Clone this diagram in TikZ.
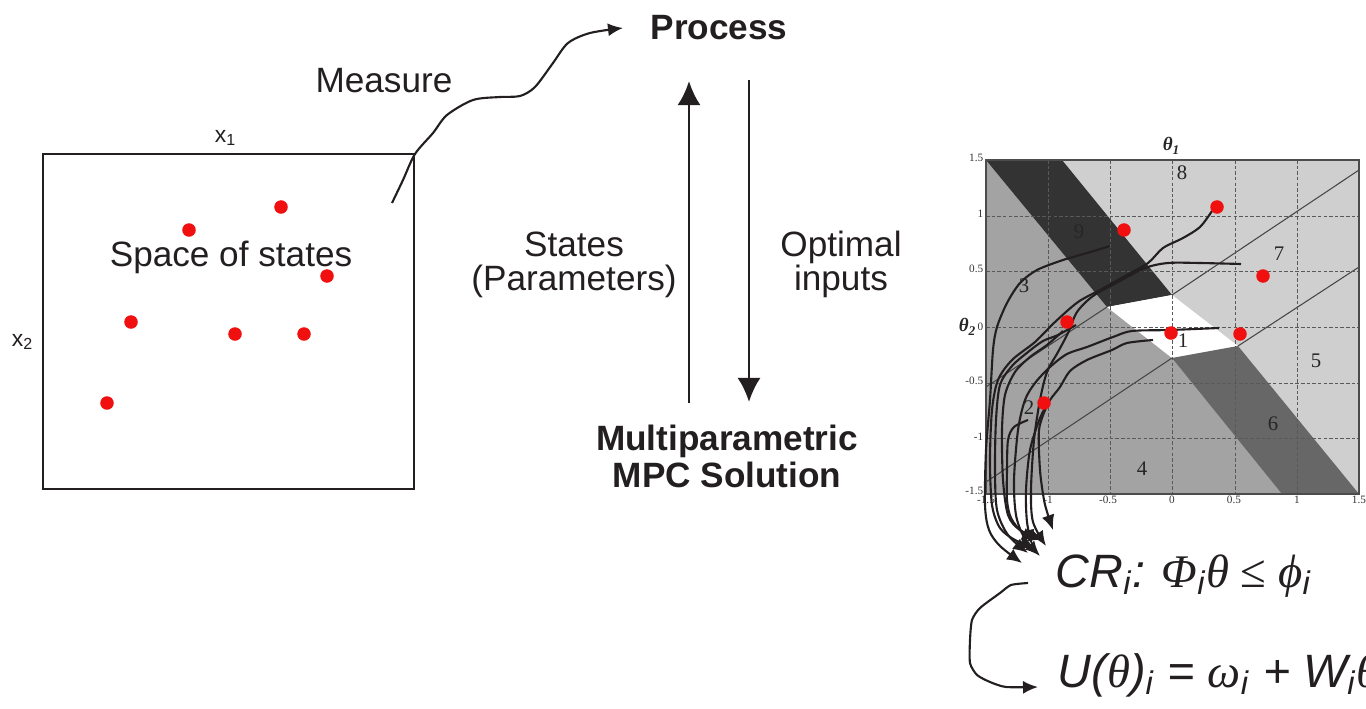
\documentclass[tikz,border=0pt]{standalone}
\usepackage{fontspec}
\setmainfont{Liberation Sans}
\newfontfamily\timesfont{Liberation Serif}
\usetikzlibrary{arrows.meta}

\definecolor{inkdark}{HTML}{231F20}
\definecolor{crlight}{HTML}{CFCFCF}
\definecolor{crmid}{HTML}{A3A3A3}
\definecolor{crdark}{HTML}{333333}
\definecolor{crshade}{HTML}{676767}
\definecolor{dotred}{HTML}{F01010}

\begin{document}
\begin{tikzpicture}[x=0.01cm, y=-0.01cm,
  txt/.style={font=\fontsize{10}{9.4}\selectfont, text=inkdark, inner sep=0pt, align=center},
  bold/.style={txt, font=\fontsize{10}{9.2}\selectfont\bfseries},
  axislab/.style={font=\fontsize{6.5}{7}\selectfont, text=inkdark, inner sep=0pt},
  tick/.style={font=\timesfont\fontsize{3.2}{3.5}\selectfont, text=black!80, inner sep=0pt},
  crnum/.style={font=\timesfont\fontsize{5.9}{6}\selectfont, text=black!85, inner sep=0pt},
  thetalab/.style={font=\timesfont\bfseries\itshape\fontsize{5.4}{6}\selectfont, text=black!85, inner sep=0pt},
  formula/.style={font=\fontsize{13.3}{15}\selectfont\itshape, text=inkdark, inner sep=0pt, anchor=base west},
  sample/.style={circle, fill=dotred, draw=none, minimum size=1.35mm, inner sep=0pt},
  grid line/.style={gray!70!black, line width=0.25pt, dash pattern=on 1pt off 0.6pt},
  cut/.style={gray!55!black, line width=0.3pt},
  trail/.style={inkdark, line width=0.6pt, -{Latex[length=1.5mm, width=1.3mm]}},
  flow/.style={inkdark, line width=0.75pt, -{Latex[length=2.4mm, width=2.3mm]}}
]
  \useasboundingbox (0,0) rectangle (1366,709);
  \clip (0,0) rectangle (1366,709);

  % space of states
  \draw[inkdark, line width=0.6pt] (43,154) rectangle (414,489);
  \node[axislab] (xone) at (226,138) {x\textsubscript{1}};
  \node[axislab] (xtwo) at (23,342) {x\textsubscript{2}};
  \node[txt, anchor=base] (space) at (231,266) {Space of states};
  \node[sample] (s1) at (281,207) {};
  \node[sample] (s2) at (189,230) {};
  \node[sample] (s3) at (327,276) {};
  \node[sample] (s4) at (131,322) {};
  \node[sample] (s5) at (235,334) {};
  \node[sample] (s6) at (304,334) {};
  \node[sample] (s7) at (107,403) {};

  % loop between process and solver
  \node[txt, anchor=base] (measure) at (384,93) {Measure};
  \node[bold, anchor=base] (process) at (719,40) {Process};
  \node[txt, anchor=base] (states) at (574,290) {States\\(Parameters)};
  \node[txt, anchor=base] (optimal) at (841,290) {Optimal\\inputs};
  \node[bold, anchor=base] (solver) at (727,487) {Multiparametric\\MPC Solution};
  \coordinate (meastail) at (392,203);
  \coordinate (meastip) at (623,28);
  \draw[trail] plot[smooth, tension=0.5] coordinates {(meastail) (403,180) (415,154) (433,133) (447,115) (473,100) (500,97) (520,96) (535,87) (553,63) (568,43) (590,33) (meastip)};
  \coordinate (upfoot) at (689,403);
  \coordinate (uptip) at (689,81);
  \coordinate (downtop) at (749,80);
  \coordinate (downtip) at (749,402);
  \draw[flow] (upfoot) -- (uptip);
  \draw[flow] (downtop) -- (downtip);

  % critical regions
  \fill[crlight] (986,160) rectangle (1359,494);
  \fill[crmid] (986,160) -- (1107,307) -- (1172,358) -- (1282,494) -- (986,494) -- cycle;
  \fill[crdark] (986,160) -- (1062,160) -- (1172,295) -- (1107,307) -- cycle;
  \fill[white] (1107,307) -- (1172,295) -- (1238,346) -- (1172,358) -- cycle;
  \fill[crshade] (1172,358) -- (1238,346) -- (1359,494) -- (1282,494) -- cycle;
  \draw[cut] (1172,295) -- (1359,170);
  \draw[cut] (1238,346) -- (1359,267);
  \draw[cut] (1107,307) -- (986,387);
  \draw[cut] (1172,358) -- (986,482);
  \foreach \g in {1048,1110,1172,1235,1297}
    \draw[grid line] (\g,160) -- (\g,494);
  \foreach \g in {216,271,327,383,438}
    \draw[grid line] (986,\g) -- (1359,\g);
  \draw[gray!60!black, line width=0.3pt] (986,160) rectangle (1359,494);
  \foreach \v/\py [count=\k] in {1.5/158, 1/214, 0.5/269, 0/327, -0.5/381, -1/437, -1.5/491}
    \node[tick, anchor=east] (yt\k) at (984,\py) {\v};
  \foreach \v/\px [count=\k] in {-1.5/986, -1/1048, -0.5/1108, 0/1172, 0.5/1234, 1/1297, 1.5/1359}
    \node[tick] (xt\k) at (\px,500) {\v};
  \node[thetalab] (thone) at (1172,146) {θ\textsubscript{1}};
  \node[thetalab] (thtwo) at (968,327) {θ\textsubscript{2}};
  \node[crnum] (cr8) at (1182,173) {8};
  \node[crnum] (cr9) at (1079,232) {9};
  \node[crnum] (cr7) at (1279,254) {7};
  \node[crnum] (cr3) at (1024,286) {3};
  \node[crnum] (cr1) at (1183,341) {1};
  \node[crnum] (cr5) at (1316,361) {5};
  \node[crnum] (cr2) at (1029,408) {2};
  \node[crnum] (cr6) at (1273,424) {6};
  \node[crnum] (cr4) at (1142,469) {4};

  % trajectories to the formula
  \draw[trail] plot[smooth] coordinates {(1212,211) (1200,227) (1183,238) (1163,248) (1148,263) (1125,276) (1100,290) (1078,302) (1055,322) (1035,342) (1012,360) (998,380) (992,410) (990,460) (992,505) (1000,528) (1015,540) (1035,548)};
  \draw[trail] plot[smooth] coordinates {(1241,264) (1200,263) (1168,263) (1145,268) (1118,282) (1093,296) (1077,312) (1068,333) (1058,352) (1047,372) (1040,400) (1034,440) (1031,490) (1033,522) (1046,546)};
  \draw[trail] plot[smooth] coordinates {(1110,246) (1087,253) (1063,260) (1037,270) (1020,283) (1007,303) (997,327) (993,350) (990,400) (986,450) (985,505) (989,530) (1000,546) (1022,563)};
  \draw[trail] plot[smooth] coordinates {(1219,328) (1170,330) (1132,331) (1113,337) (1087,347) (1067,354) (1050,367) (1035,383) (1025,400) (1018,430) (1014,480) (1016,515) (1024,537) (1040,556)};
  \draw[trail] plot[smooth] coordinates {(1153,340) (1127,343) (1112,350) (1087,360) (1070,371) (1060,387) (1050,400) (1040,418) (1030,450) (1026,490) (1027,522) (1032,545)};
  \draw[trail] plot[smooth] coordinates {(1046,408) (1039,430) (1040,470) (1044,500) (1048,515) (1053,530)};
  \draw[trail] plot[smooth] coordinates {(1028,420) (1014,427) (1008,440) (1007,470) (1007,500) (1011,518) (1022,532) (1037,540)};
  \draw[trail] plot[smooth] coordinates {(1076,325) (1058,335) (1043,341) (1028,352) (1012,366) (1000,385) (996,420) (995,470) (997,510) (1008,535) (1028,553)};
  \draw[trail] plot[smooth] coordinates {(1063,331) (1047,345) (1030,357) (1015,372) (1005,395) (1002,430) (1003,480) (1008,515) (1020,530) (1044,540)};
  \node[sample] (p1) at (1124,230) {};
  \node[sample] (p2) at (1217,207) {};
  \node[sample] (p3) at (1263,276) {};
  \node[sample] (p4) at (1067,322) {};
  \node[sample] (p5) at (1171,333) {};
  \node[sample] (p6) at (1240,334) {};
  \node[sample] (p7) at (1044,403) {};

  % explicit solution
  \node[formula] (crset) at (1055,587) {CR\textsubscript{i}:\hspace{0.35em}{\timesfont Φ}\textsubscript{i}{\timesfont θ}\hspace{0.25em}{\timesfont\upshape ≤}\hspace{0.25em}{\timesfont ϕ}\textsubscript{i}};
  \node[formula] (law) at (1057,687) {U({\timesfont θ})\textsubscript{i} = {\timesfont ω}\textsubscript{i} + W\textsubscript{i}{\timesfont θ}};
  \coordinate (crtail) at (1028,583);
  \coordinate (lawtip) at (1038,687);
  \draw[trail] plot[smooth, tension=0.4] coordinates {(crtail) (1011,585) (1000,593) (980,608) (972,620) (970,640) (970,663) (977,675) (990,682) (1006,687) (lawtip)};
\end{tikzpicture}
\end{document}
